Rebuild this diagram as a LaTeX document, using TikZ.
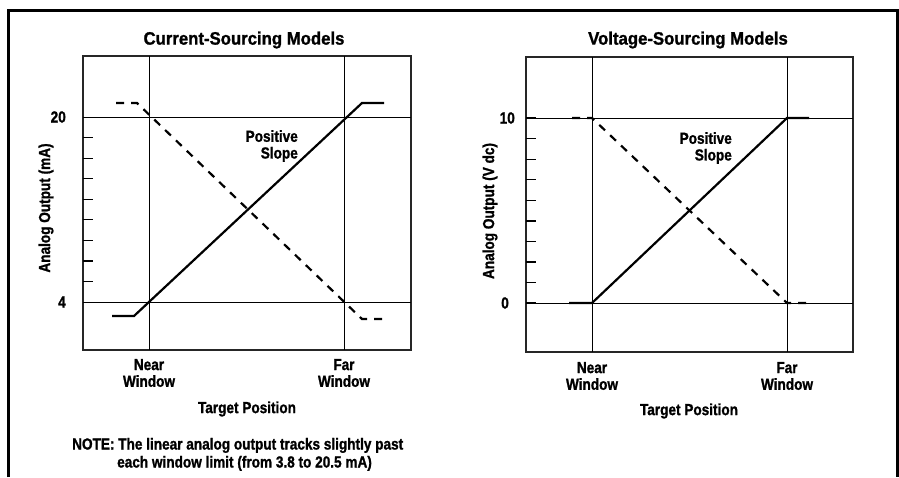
\documentclass[tikz,border=0pt]{standalone}
\usepackage{fontspec}
\setmainfont[FakeStretch=0.85,FakeBold=1.2]{Liberation Sans}
\newfontfamily\titlefont[FakeStretch=0.93,FakeBold=1.2]{Liberation Sans}
\begin{document}
\begin{tikzpicture}[x=1pt,y=-1pt,
  font=\bfseries\fontsize{16}{16.7}\selectfont,
  lbl/.style={inner sep=0pt, align=center},
  ttl/.style={inner sep=0pt, font=\titlefont\bfseries\fontsize{18}{20}\selectfont},
  plotbox/.style={line width=1.8pt, draw=black!85},
  gridline/.style={line width=1pt},
  tickline/.style={line width=1.2pt},
  curve/.style={line width=2.2pt},
  dcurve/.style={line width=2.2pt, dash pattern=on 8pt off 7pt},
  frame/.style={line width=3pt}]
\useasboundingbox (0,0) rectangle (899,477);
% outer frame
\coordinate (fbl) at (8,477);
\coordinate (ftl) at (8,10);
\coordinate (ftr) at (897,10);
\coordinate (fbr) at (897,477);
\draw[frame] (fbl) -- (ftl) -- (ftr) -- (fbr);

% ================= left plot =================
\draw[plotbox] (83,56) rectangle (411,350);
\draw[gridline] (149,56) -- (149,350);
\draw[gridline] (344,56) -- (344,350);
\draw[gridline] (83,117) -- (411,117);
\draw[gridline] (83,302) -- (411,302);
\foreach \yy in {137.6,158.1,178.7,199.2,219.8,240.3,260.9,281.4}
  \draw[tickline] (83,\yy) -- (93,\yy);
\draw[curve] (112,316) -- (134,316) -- (362,103) -- (384,103);
\draw[dcurve] (116,103) -- (137,103) -- (362,319) -- (384,319);

\node[ttl] (t1) at (244,40) {Current-Sourcing Models};
\node[lbl, anchor=east] (a20) at (66,117) {20};
\node[lbl, anchor=east] (a4) at (66,302) {4};
\node[lbl, rotate=90] (y1) at (46,208) {Analog Output (mA)};
\node[lbl, align=right, anchor=east] (ps1) at (298,146) {Positive\\Slope};
\node[lbl] (nw1) at (149,373) {Near\\Window};
\node[lbl] (fw1) at (344,373) {Far\\Window};
\node[lbl] (tp1) at (247,409) {Target Position};
\node[lbl, anchor=base west] (n1) at (72,449.5) {NOTE: The linear analog output tracks slightly past};
\node[lbl, anchor=base west] (n2) at (117,467.5) {each window limit (from 3.8 to 20.5 mA)};

% ================= right plot =================
\draw[plotbox] (526,57) rectangle (853,352);
\draw[gridline] (592,57) -- (592,352);
\draw[gridline] (787,57) -- (787,352);
\draw[gridline] (526,118) -- (853,118);
\draw[gridline] (526,303) -- (853,303);
\foreach \yy in {138.6,159.1,179.7,200.3,220.9,241.4,262,282.6}
  \draw[tickline] (526,\yy) -- (536,\yy);
\draw[curve] (526,118) -- (536,118);
\draw[curve] (526,303) -- (536,303);
\draw[curve] (569,303) -- (592,303) -- (787,118) -- (809,118);
\draw[dcurve] (572,118) -- (592,118) -- (787,303) -- (809,303);

\node[ttl] (t2) at (688,40) {Voltage-Sourcing Models};
\node[lbl, anchor=east] (a10) at (515,118) {10};
\node[lbl, anchor=east] (a0) at (509,303) {0};
\node[lbl, rotate=90] (y2) at (490,211) {Analog Output (V dc)};
\node[lbl, align=right, anchor=east] (ps2) at (732,148) {Positive\\Slope};
\node[lbl] (nw2) at (592,376) {Near\\Window};
\node[lbl] (fw2) at (787,376) {Far\\Window};
\node[lbl] (tp2) at (689,411) {Target Position};
\end{tikzpicture}
\end{document}
